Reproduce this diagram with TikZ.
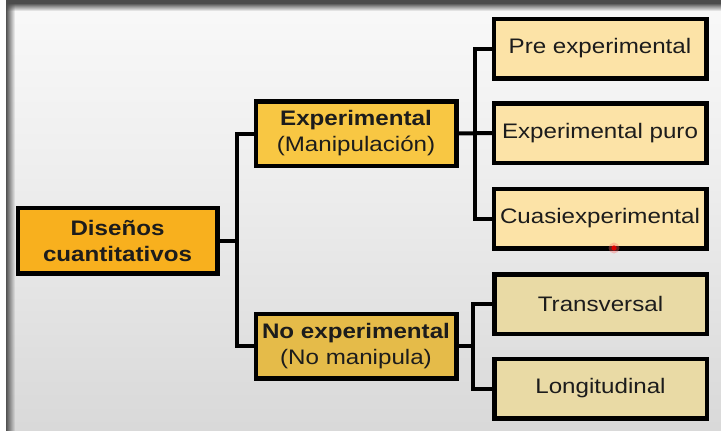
\documentclass[tikz,border=0pt]{standalone}
\usepackage{fontspec}
\setmainfont{Liberation Sans}[FakeStretch=1.15]
\usetikzlibrary{fadings}

\definecolor{bgtop}{HTML}{FDFCFD}
\definecolor{bghi}{HTML}{F9F9F9}
\definecolor{bgmid}{HTML}{EEEEEE}
\definecolor{bglow}{HTML}{DCDCDC}
\definecolor{bgbot}{HTML}{C9C9C9}
\definecolor{rootfill}{HTML}{F8B01E}
\definecolor{expfill}{HTML}{F8C743}
\definecolor{nexpfill}{HTML}{E5BB49}
\definecolor{leafA}{HTML}{FCE3A7}
\definecolor{leafB}{HTML}{E9DAA5}
\definecolor{ink}{HTML}{1C1C1C}

\pgfdeclareverticalshading{slidebg}{100bp}{%
  color(0bp)=(bgbot); color(30bp)=(bglow); color(55bp)=(bgmid);
  color(75bp)=(bghi); color(100bp)=(bgtop)}

\tikzset{
  box/.style={draw=black, line width=3pt, text=ink, align=center,
    inner sep=0pt, font=\fontsize{21}{26}\selectfont},
  rootbox/.style={box, fill=rootfill, minimum width=198pt, minimum height=64pt},
  midbox/.style={box, minimum width=199pt, minimum height=63pt},
  leafbox/.style={box, minimum width=211pt, minimum height=58pt},
  link/.style={draw=black, line width=4pt, line join=miter},
}

\begin{document}
\begin{tikzpicture}[x=1pt, y=-1pt]
  % window and slide background
  \fill[white] (0,0) rectangle (721,431);
  \shade[shading=slidebg] (6,0) rectangle (721,431);
  \fill[black!68, path fading=east] (6,0) rectangle (15,431);
  \fill[black!70] (6,0) rectangle (721,3);
  \fill[black!70, path fading=south] (6,3) rectangle (721,11);
  \useasboundingbox (0,0) rectangle (721,431);

  % boxes
  \node[rootbox] (root) at (117.5,240.5) {\bfseries Diseños\\\bfseries cuantitativos};
  \node[midbox, fill=expfill] (exp) at (356,133.5) {\bfseries Experimental\\(Manipulación)};
  \node[midbox, fill=nexpfill] (nexp) at (356,346) {\bfseries No experimental\\(No manipula)};

  \node[leafbox, fill=leafA] (pre) at (600,48.5) {Pre experimental};
  \node[leafbox, fill=leafA] (puro) at (600,133) {Experimental puro};
  \node[leafbox, fill=leafA] (cuasi) at (600,218.5) {Cuasiexperimental};
  \node[leafbox, fill=leafB] (trans) at (600.5,304) {Transversal};
  \node[leafbox, fill=leafB] (long) at (600.5,388.5) {Longitudinal};

  % bus positions
  \coordinate (busA) at (237,0);
  \coordinate (busB) at (475,0);
  \coordinate (busC) at (473,0);

  % connectors
  \draw[link] (root.east) -- (root.east -| busA);
  \draw[link] (exp.west) -- (exp.west -| busA) -- (nexp.west -| busA) -- (nexp.west);

  \draw[link] (exp.east) -- (puro.west);
  \draw[link] (pre.west) -- (pre.west -| busB) -- (cuasi.west -| busB) -- (cuasi.west);

  \draw[link] (nexp.east) -- (nexp.east -| busC);
  \draw[link] (trans.west) -- (trans.west -| busC) -- (long.west -| busC) -- (long.west);

  % redraw box borders over the connector ends
  \foreach \n in {root,exp,nexp,pre,puro,cuasi,trans,long}
    \draw[line width=3pt] (\n.north west) rectangle (\n.south east);

  % pointer dot
  \fill[red!60, opacity=0.35] (614,248) circle (5.5);
  \fill[red!85!black] (614,248) circle (2.6);
\end{tikzpicture}
\end{document}
